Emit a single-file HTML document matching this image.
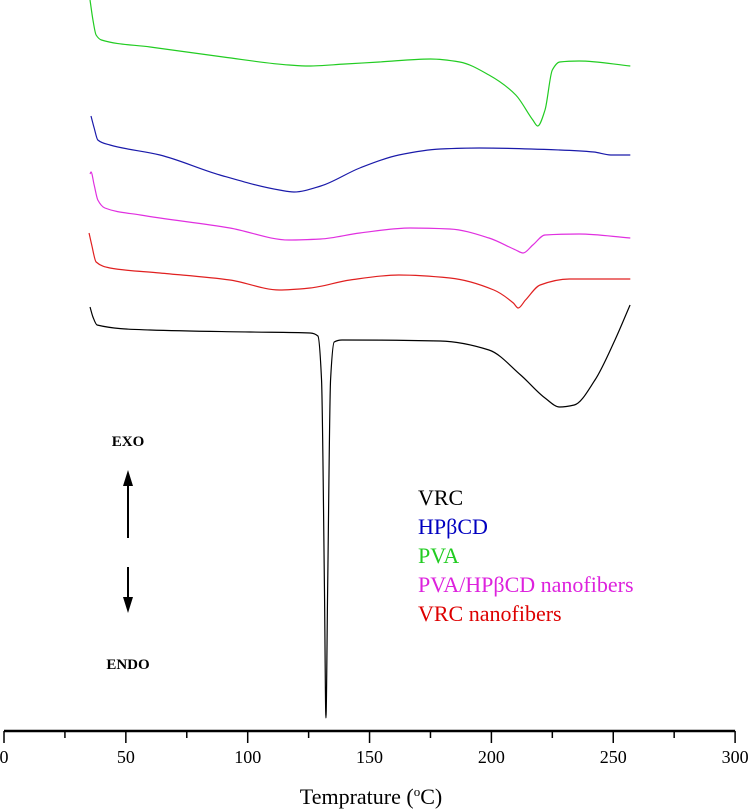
<!DOCTYPE html>
<html><head><meta charset="utf-8"><style>
html,body{margin:0;padding:0;background:#fff;}
svg{display:block;font-family:"Liberation Serif",serif;}
</style></head><body>
<svg id="chart" width="750" height="812" viewBox="0 0 750 812" xmlns="http://www.w3.org/2000/svg">
<g id="curves"></g>
<g id="axis"></g>
<text x="371" y="804" font-size="22" text-anchor="middle">Temprature (<tspan dy="-8" font-size="13">o</tspan><tspan dy="8">C)</tspan></text>
<text x="128" y="446" font-size="15" font-weight="bold" text-anchor="middle">EXO</text>
<g><line x1="128" y1="538" x2="128" y2="482" stroke="#000" stroke-width="2"/><polygon points="128,470 123,486 133,486" fill="#000"/></g>
<g><line x1="128" y1="567" x2="128" y2="600" stroke="#000" stroke-width="2"/><polygon points="128,613 123,597 133,597" fill="#000"/></g>
<text x="128" y="669" font-size="15" font-weight="bold" text-anchor="middle">ENDO</text>
<g font-size="22">
<text x="418" y="505" fill="#000">VRC</text>
<text x="418" y="534" fill="#0000c0">HPβCD</text>
<text x="418" y="563" fill="#22cc22">PVA</text>
<text x="418" y="592" fill="#dd22dd">PVA/HPβCD nanofibers</text>
<text x="418" y="621" fill="#dd0000">VRC nanofibers</text>
</g>
</svg>
<script>
// Temperatures (°C) and signal values (arbitrary units, offset-stacked; larger = higher on page)
const xTicks = [0,50,100,150,200,250,300];
const greenT = [35.3,36.5,37.8,40,60,90,117,125,140,154,175,187,199,210,217,219,222,225,228,236,257];
const greenV = [740,720,705,700,693,683,675,674,676,678,681,678,665,645,620,614,630,670,678,679,674];
const blueT = [35.7,37,38.5,43.5,64,88.6,113,119,130,146,162,179,195,228,242,249,257];
const blueV = [624,612,600,595,585,565,550,548,554,572,585,591,592,590,588,585,585];
const magT = [35.3,35.7,37,38.5,41.4,56,92.7,117,130,146,166.6,183,199,210,213,217,222,236,257];
const magV = [566,568,555,540,532,525,512,500,501,507,512,511,502,490,487,495,505,506,502];
const redT = [34.9,36,37.8,43.5,64,92.7,113,125.6,142,162,183,201,209,211,214,220,232,257];
const redV = [507,495,478,472,467,460,450,452,460,465,462,450,437,432,440,455,461,461];
const blackT = [35.3,36.5,38.2,60,101,125.6,128.8,130.3,131.5,132.1,132.8,134,135.5,138.7,179,199,212,222,228,234,242.5,250.7,256.9];
const blackV = [433,423,415,410,408,407,404,360,150,22,150,360,398,400,399,390,365,342,333,335,360,400,435];

const X0=4, XS=2.437;
const xPx = t => X0 + t*XS;
const yPx = v => 740 - v;
const NS='http://www.w3.org/2000/svg';

function smoothPath(T,V){
  const x=T.map(xPx), y=V.map(yPx), n=x.length;
  const d=[], m=new Array(n);
  for(let i=0;i<n-1;i++) d.push((y[i+1]-y[i])/(x[i+1]-x[i]));
  m[0]=d[0]; m[n-1]=d[n-2];
  for(let i=1;i<n-1;i++){
    if(d[i-1]*d[i]<=0) m[i]=0;
    else { const w1=2*(x[i+1]-x[i])+(x[i]-x[i-1]), w2=(x[i+1]-x[i])+2*(x[i]-x[i-1]);
      m[i]=(w1+w2)/(w1/d[i-1]+w2/d[i]); }
  }
  let s='M'+x[0].toFixed(2)+','+y[0].toFixed(2);
  for(let i=0;i<n-1;i++){
    const h=(x[i+1]-x[i])/3;
    s+=' C'+(x[i]+h).toFixed(2)+','+(y[i]+m[i]*h).toFixed(2)+' '+(x[i+1]-h).toFixed(2)+','+(y[i+1]-m[i+1]*h).toFixed(2)+' '+x[i+1].toFixed(2)+','+y[i+1].toFixed(2);
  }
  return s;
}
const curves=document.getElementById('curves');
function addCurve(T,V,color,name){
  const path=document.createElementNS(NS,'path');
  path.setAttribute('d',smoothPath(T,V));
  path.setAttribute('fill','none');
  path.setAttribute('stroke',color);
  path.setAttribute('stroke-width','1.2');
  
  
  curves.appendChild(path);
}
addCurve(greenT,greenV,'#22cc22','pva-curve');
addCurve(blueT,blueV,'#1a1aaa','hpbcd-curve');
addCurve(magT,magV,'#e030e0','pva-hpbcd-curve');
addCurve(redT,redV,'#e02020','vrc-nanofibers-curve');
addCurve(blackT,blackV,'#000','vrc-curve');

const axis=document.getElementById('axis');
const AY=731;
const al=document.createElementNS(NS,'line');
al.setAttribute('x1',xPx(0));al.setAttribute('x2',xPx(300));
al.setAttribute('y1',AY);al.setAttribute('y2',AY);
al.setAttribute('stroke','#000');al.setAttribute('stroke-width','2.5');


axis.appendChild(al);
for(let t=0;t<=300;t+=25){
  const major=t%50===0;
  const tk=document.createElementNS(NS,'line');
  tk.setAttribute('x1',xPx(t));tk.setAttribute('x2',xPx(t));
  tk.setAttribute('y1',AY);tk.setAttribute('y2',AY+(major?12:7));
  tk.setAttribute('stroke','#000');tk.setAttribute('stroke-width','1.5');
  
  
  axis.appendChild(tk);
}
xTicks.forEach(t=>{
  const tx=document.createElementNS(NS,'text');
  tx.setAttribute('x',xPx(t));tx.setAttribute('y',AY+32);
  tx.setAttribute('font-size','18');tx.setAttribute('text-anchor','middle');
  tx.textContent=t;
  
  
  axis.appendChild(tx);
});
</script>
</body></html>
